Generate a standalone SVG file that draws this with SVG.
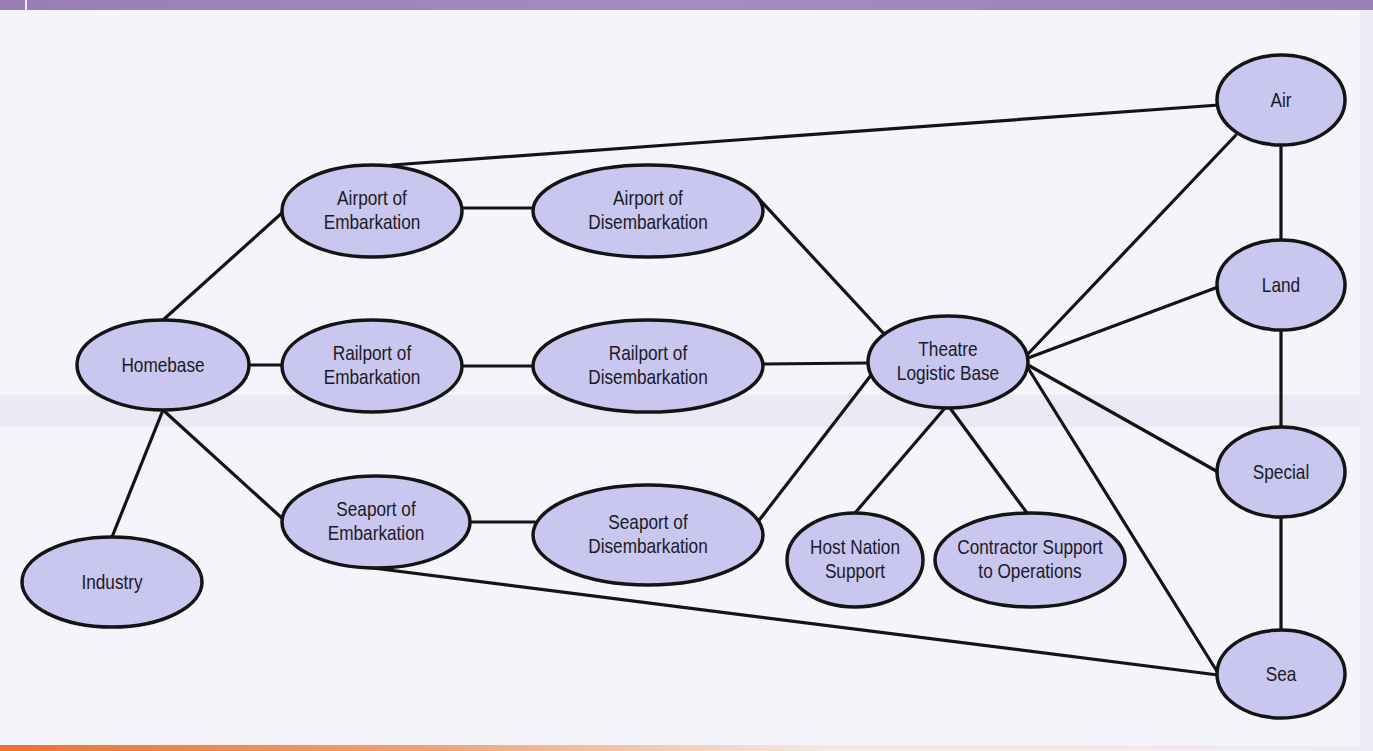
<svg xmlns="http://www.w3.org/2000/svg" width="1373" height="751" viewBox="0 0 1373 751">
<defs>
<linearGradient id="bar" x1="0" y1="0" x2="1" y2="0">
<stop offset="0" stop-color="#9a7db6"/>
<stop offset="0.5" stop-color="#a48cc4"/>
<stop offset="1" stop-color="#9a7fb8"/>
</linearGradient>
<linearGradient id="orange" x1="0" y1="0" x2="1" y2="0">
<stop offset="0" stop-color="#e8742e"/>
<stop offset="0.3" stop-color="#f0a070"/>
<stop offset="0.6" stop-color="#f4e8e0"/>
<stop offset="1" stop-color="#f1ecf4"/>
</linearGradient>
<style>
.n ellipse{fill:#c9c7f0;stroke:#141414;stroke-width:3.5}
.n text{font-family:"Liberation Sans",Arial,sans-serif;font-size:21px;fill:#1a1a26;text-anchor:middle}
#connectors line{stroke:#141414;stroke-width:3.2;stroke-linecap:round}
</style>
</defs>
<rect x="0" y="0" width="1373" height="751" fill="#f5f4fb"/>
<rect x="0" y="395" width="1373" height="32" fill="#ebe9f6"/>
<rect x="1360" y="10" width="13" height="735" fill="#ecebf6"/>
<rect x="0" y="0" width="1373" height="10" fill="url(#bar)"/>
<rect x="25" y="0" width="2" height="10" fill="#f0eef8"/>
<rect x="0" y="745" width="1373" height="6" fill="url(#orange)"/>

<g id="connectors">
<line x1="392" y1="165" x2="1219" y2="105"/>
<line x1="283" y1="212" x2="163" y2="320"/>
<line x1="462" y1="208" x2="533" y2="208"/>
<line x1="760" y1="200" x2="885" y2="335"/>
<line x1="250" y1="365" x2="282" y2="365"/>
<line x1="462" y1="366" x2="533" y2="366"/>
<line x1="763" y1="364" x2="868" y2="363"/>
<line x1="163" y1="410" x2="112" y2="537"/>
<line x1="163" y1="410" x2="284" y2="520"/>
<line x1="470" y1="522" x2="535" y2="522"/>
<line x1="365" y1="567" x2="1218" y2="675"/>
<line x1="757" y1="523" x2="875" y2="370"/>
<line x1="945" y1="408" x2="855" y2="513"/>
<line x1="950" y1="408" x2="1027" y2="513"/>
<line x1="1027" y1="355" x2="1236" y2="135"/>
<line x1="1028" y1="358" x2="1218" y2="287"/>
<line x1="1028" y1="365" x2="1218" y2="472"/>
<line x1="1028" y1="368" x2="1218" y2="673"/>
<line x1="1281" y1="145" x2="1281" y2="240"/>
<line x1="1281" y1="330" x2="1281" y2="427"/>
<line x1="1281" y1="517" x2="1281" y2="630"/>
</g>

<g id="air" class="n"><ellipse cx="1281" cy="100" rx="64" ry="45"/><text transform="translate(1281 107) scale(0.82 1)">Air</text></g>
<g id="land" class="n"><ellipse cx="1281" cy="285" rx="64" ry="45"/><text transform="translate(1281 292) scale(0.82 1)">Land</text></g>
<g id="special" class="n"><ellipse cx="1281" cy="472" rx="64" ry="45"/><text transform="translate(1281 479) scale(0.82 1)">Special</text></g>
<g id="sea" class="n"><ellipse cx="1281" cy="674" rx="64" ry="44"/><text transform="translate(1281 681) scale(0.82 1)">Sea</text></g>
<g id="airport-embarkation" class="n"><ellipse cx="372" cy="211" rx="90" ry="46"/><text transform="translate(372 205) scale(0.82 1)">Airport of</text><text transform="translate(372 229) scale(0.82 1)">Embarkation</text></g>
<g id="airport-disembarkation" class="n"><ellipse cx="648" cy="211" rx="115" ry="46"/><text transform="translate(648 205) scale(0.82 1)">Airport of</text><text transform="translate(648 229) scale(0.82 1)">Disembarkation</text></g>
<g id="homebase" class="n"><ellipse cx="163" cy="365" rx="86" ry="45"/><text transform="translate(163 372) scale(0.82 1)">Homebase</text></g>
<g id="railport-embarkation" class="n"><ellipse cx="372" cy="366" rx="90" ry="46"/><text transform="translate(372 360) scale(0.82 1)">Railport of</text><text transform="translate(372 384) scale(0.82 1)">Embarkation</text></g>
<g id="railport-disembarkation" class="n"><ellipse cx="648" cy="366" rx="115" ry="46"/><text transform="translate(648 360) scale(0.82 1)">Railport of</text><text transform="translate(648 384) scale(0.82 1)">Disembarkation</text></g>
<g id="theatre" class="n"><ellipse cx="948" cy="362" rx="80" ry="46"/><text transform="translate(948 356) scale(0.82 1)">Theatre</text><text transform="translate(948 380) scale(0.82 1)">Logistic Base</text></g>
<g id="seaport-embarkation" class="n"><ellipse cx="376" cy="522" rx="94" ry="46"/><text transform="translate(376 516) scale(0.82 1)">Seaport of</text><text transform="translate(376 540) scale(0.82 1)">Embarkation</text></g>
<g id="seaport-disembarkation" class="n"><ellipse cx="648" cy="535" rx="115" ry="50"/><text transform="translate(648 529) scale(0.82 1)">Seaport of</text><text transform="translate(648 553) scale(0.82 1)">Disembarkation</text></g>
<g id="industry" class="n"><ellipse cx="112" cy="582" rx="90" ry="45"/><text transform="translate(112 589) scale(0.82 1)">Industry</text></g>
<g id="host-nation" class="n"><ellipse cx="855" cy="560" rx="68" ry="47"/><text transform="translate(855 554) scale(0.82 1)">Host Nation</text><text transform="translate(855 578) scale(0.82 1)">Support</text></g>
<g id="contractor" class="n"><ellipse cx="1030" cy="560" rx="95" ry="47"/><text transform="translate(1030 554) scale(0.82 1)">Contractor Support</text><text transform="translate(1030 578) scale(0.82 1)">to Operations</text></g>
</svg>
